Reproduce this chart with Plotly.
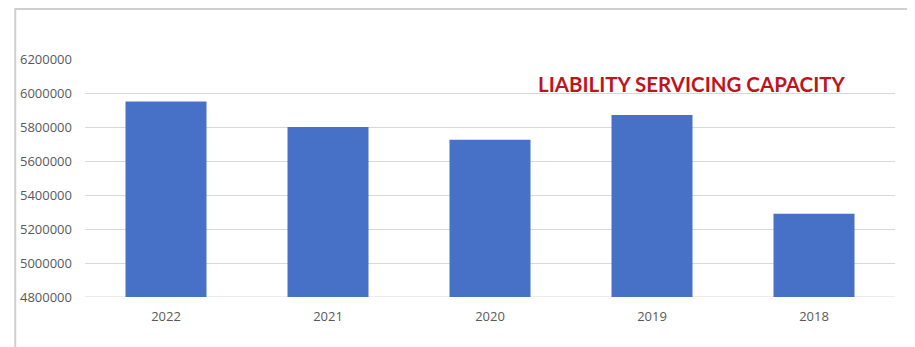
import plotly.graph_objects as go

years = ["2022", "2021", "2020", "2019", "2018"]
values = [5950000, 5800000, 5725000, 5870000, 5290000]
y_ticks = [4800000, 5000000, 5200000, 5400000, 5600000, 5800000, 6000000, 6200000]
title_text = "LIABILITY SERVICING CAPACITY"

# page body has an 8px default margin; size the figure to fill the rest
OFF = 8
W, H = 915 - OFF, 347 - OFF
ml, mr, mt, mb = 82 - OFF, 20, 59 - OFF, 50
pw = W - ml - mr
ph = H - mt - mb

def px_x(px):
    return (px - OFF - ml) / pw

def px_y(py):
    return (H - mb - (py - OFF)) / ph

fig = go.Figure()
fig.add_trace(go.Bar(
    x=years, y=values,
    marker=dict(color="#4671C6", line=dict(width=0)),
    hoverinfo="x+y",
))

fig.update_layout(
    width=W, height=H,
    margin=dict(l=ml, r=mr, t=mt, b=mb),
    paper_bgcolor="white",
    plot_bgcolor="white",
    bargap=0.5,
    showlegend=False,
    font=dict(family="Open Sans, sans-serif", color="#595959", size=13),
    xaxis=dict(
        type="category",
        showgrid=False,
        showline=False,
        ticks="",
        tickfont=dict(size=13, color="#595959"),
        ticklabelstandoff=10,
    ),
    yaxis=dict(
        range=[4800000, 6200000],
        tickvals=y_ticks,
        ticktext=[str(v) for v in y_ticks],
        showgrid=True,
        gridcolor="#D9D9D9",
        gridwidth=1,
        zeroline=False,
        showline=False,
        ticks="",
        ticklabelstandoff=12,
        tickfont=dict(size=13, color="#595959"),
    ),
    shapes=[
        dict(type="rect", xref="paper", yref="paper",
             x0=px_x(12), x1=px_x(908), y0=px_y(360), y1=px_y(9),
             line=dict(color="#CFCFCF", width=2), fillcolor="rgba(0,0,0,0)",
             layer="below"),
        dict(type="line", xref="paper", yref="y",
             x0=0, x1=1, y0=4800000, y1=4800000,
             line=dict(color="#D9D9D9", width=1), layer="below"),
    ],
    annotations=[
        dict(text="<b>" + title_text + "</b>", xref="paper", yref="paper",
             x=px_x(691), y=px_y(84), xanchor="center", yanchor="middle",
             showarrow=False,
             font=dict(family="Lato, sans-serif", size=20.5, color="#C0141C")),
    ],
)

fig.write_html("out.html")
